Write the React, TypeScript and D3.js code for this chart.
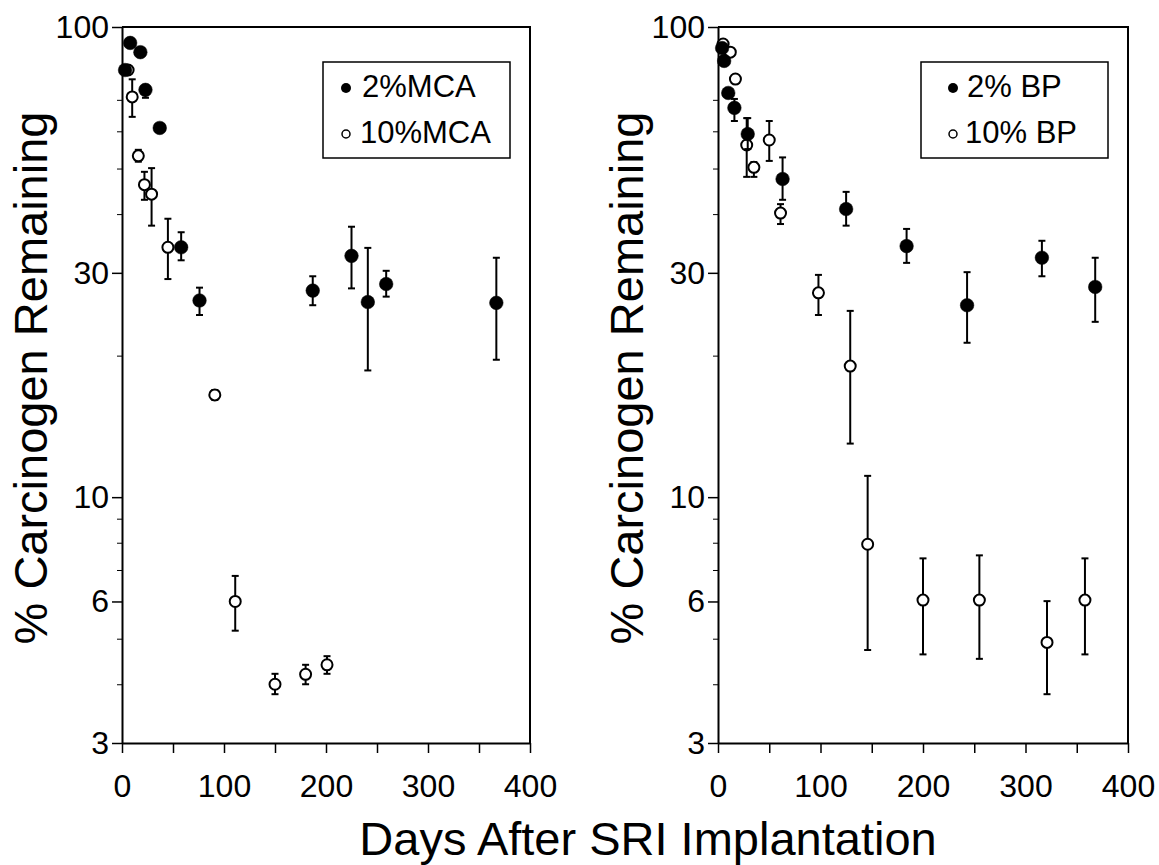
import React, { useEffect, useRef } from "react";
import * as d3 from "d3";

// 2% MCA (filled) and 10% MCA (open), left panel
const mcaDays2 = [3, 8, 18, 23, 37, 58, 76, 187, 225, 241, 259, 367];
const mcaVal2 = [81, 92.5, 88.4, 73.5, 61, 34.0, 26.2, 27.5, 32.6, 26.0, 28.4, 25.9];
const mcaHi2 = [null, null, 90, 75.3, null, 36.6, 27.9, 29.5, 37.6, 33.9, 30.3, 32.3];
const mcaLo2 = [null, null, 86.5, 70.7, null, 31.9, 24.4, 25.6, 27.8, 18.6, 26.7, 19.6];

const mcaDays10 = [6, 10, 16, 22, 29, 45, 91, 111, 150, 180, 201];
const mcaVal10 = [81, 71, 53.2, 46.2, 44.1, 34.0, 16.5, 6.0, 4.0, 4.2, 4.4];
const mcaHi10 = [null, 77.4, 54.8, 49.2, 50.1, 39.1, 16.9, 6.8, 4.21, 4.4, 4.59];
const mcaLo10 = [null, 64.4, 51.7, 42.9, 37.8, 29.1, 16.1, 5.2, 3.81, 4.0, 4.21];

// 2% BP (filled) and 10% BP (open), right panel
const bpDays2 = [4, 6, 10, 16, 29, 63, 125, 184, 243, 316, 368];
const bpVal2 = [90.2, 84.7, 72.4, 67.3, 59.2, 47.5, 41.0, 34.2, 25.6, 32.3, 28.0];
const bpHi2 = [null, null, null, 70.3, 64.0, 52.8, 44.6, 37.2, 30.1, 35.1, 32.3];
const bpLo2 = [null, null, null, 63.1, 55.0, 42.9, 37.8, 31.5, 21.3, 29.5, 23.6];

const bpDays10 = [5, 12, 17, 28, 35, 50, 61, 98, 129, 146, 200, 255, 321, 358];
const bpVal10 = [92, 88.4, 77.5, 56.1, 50.3, 57.5, 40.2, 27.2, 19.0, 7.94, 6.04, 6.04, 4.91, 6.04];
const bpHi10 = [null, null, 78.5, 64.0, 51.6, 63.1, 42.0, 29.7, 24.9, 11.1, 7.41, 7.52, 6.01, 7.41];
const bpLo10 = [null, null, 76.5, 48.0, 48.0, 51.9, 38.1, 24.4, 13.0, 4.73, 4.63, 4.53, 3.81, 4.63];

// axis ticks
const yMajor = [3, 6, 10, 30, 100];
const yMinor = [4, 5, 7, 8, 9, 20, 40, 50, 60, 70];
const xTicks = [0, 50, 100, 150, 200, 250, 300, 350, 400];

const FONT = "'Liberation Sans', Arial, Helvetica, sans-serif";

const App = () => {
  const svgRef = useRef(null);

  useEffect(() => {
    const svg = d3.select(svgRef.current);
    svg.selectAll("*").remove();

    const top = 27;
    const bottom = 743;

    const drawPanel = (left, right, filled, open, legend) => {
      const x = d3.scaleLinear().domain([0, 400]).range([left, right]);
      const y = d3.scaleLog().domain([3, 100]).range([bottom, top]);
      const g = svg.append("g");

      // frame (top + right)
      g.append("path")
        .attr("d", `M${left},${top}H${right}V${bottom}`)
        .attr("fill", "none")
        .attr("stroke", "#000")
        .attr("stroke-width", 2);

      // y axis, major ticks with labels
      const yAxis = g.append("g")
        .attr("transform", `translate(${left},0)`)
        .call(d3.axisLeft(y).tickValues(yMajor).tickFormat(d3.format("d"))
          .tickSize(10).tickSizeOuter(0).tickPadding(3));
      yAxis.select(".domain").attr("stroke-width", 2);
      yAxis.selectAll(".tick line").attr("stroke-width", 1.5);
      yAxis.selectAll("text")
        .attr("font-family", FONT)
        .attr("font-size", 32)
        .attr("fill", "#000");

      // y minor ticks
      const yMin = g.append("g")
        .attr("transform", `translate(${left},0)`)
        .call(d3.axisLeft(y).tickValues(yMinor).tickFormat(() => "")
          .tickSize(5).tickSizeOuter(0));
      yMin.select(".domain").remove();

      // x axis
      const xAxis = g.append("g")
        .attr("transform", `translate(0,${bottom})`)
        .call(d3.axisBottom(x).tickValues(xTicks)
          .tickFormat(d => (d % 100 === 0 ? String(d) : ""))
          .tickSize(10).tickSizeOuter(0).tickPadding(21));
      xAxis.select(".domain").attr("stroke-width", 2);
      xAxis.selectAll(".tick line").attr("stroke-width", 1.5);
      xAxis.selectAll("text")
        .attr("font-family", FONT)
        .attr("font-size", 32)
        .attr("fill", "#000");

      // y title
      g.append("text")
        .attr("transform", `translate(${left - 75},378) rotate(-90)`)
        .attr("text-anchor", "middle")
        .attr("font-family", FONT)
        .attr("font-size", 47)
        .text("% Carcinogen Remaining");

      const drawSeries = (s, isFilled) => {
        const pts = s.days.map((d, i) => ({ d, v: s.val[i], hi: s.hi[i], lo: s.lo[i] }));
        const withErr = pts.filter(p => p.hi != null);
        const eg = g.append("g").attr("stroke", "#000").attr("stroke-width", 2);
        eg.selectAll(".bar").data(withErr).join("line")
          .attr("x1", p => x(p.d)).attr("x2", p => x(p.d))
          .attr("y1", p => y(p.hi)).attr("y2", p => y(p.lo));
        eg.selectAll(".capHi").data(withErr).join("line")
          .attr("x1", p => x(p.d) - 3.5).attr("x2", p => x(p.d) + 3.5)
          .attr("y1", p => y(p.hi)).attr("y2", p => y(p.hi));
        eg.selectAll(".capLo").data(withErr).join("line")
          .attr("x1", p => x(p.d) - 3.5).attr("x2", p => x(p.d) + 3.5)
          .attr("y1", p => y(p.lo)).attr("y2", p => y(p.lo));
        g.append("g").selectAll("circle").data(pts).join("circle")
          .attr("cx", p => x(p.d))
          .attr("cy", p => y(p.v))
          .attr("r", isFilled ? 6.8 : 5.5)
          .attr("fill", isFilled ? "#000" : "#fff")
          .attr("stroke", "#000")
          .attr("stroke-width", isFilled ? 0.5 : 2);
      };
      drawSeries(open, false);
      drawSeries(filled, true);

      // legend
      const lg = g.append("g");
      lg.append("rect")
        .attr("x", legend.x).attr("y", 62)
        .attr("width", legend.w).attr("height", 96)
        .attr("fill", "#fff").attr("stroke", "#000").attr("stroke-width", 1.5);
      lg.append("circle").attr("cx", legend.mx).attr("cy", 88).attr("r", 5).attr("fill", "#000");
      lg.append("circle").attr("cx", legend.mx).attr("cy", 134).attr("r", 4)
        .attr("fill", "#fff").attr("stroke", "#000").attr("stroke-width", 1.5);
      lg.append("text").attr("x", legend.tx).attr("y", 97)
        .attr("font-family", FONT).attr("font-size", 31).text(legend.labels[0]);
      lg.append("text").attr("x", legend.tx - 2).attr("y", 143)
        .attr("font-family", FONT).attr("font-size", 31).text(legend.labels[1]);
    };

    drawPanel(122, 530,
      { days: mcaDays2, val: mcaVal2, hi: mcaHi2, lo: mcaLo2 },
      { days: mcaDays10, val: mcaVal10, hi: mcaHi10, lo: mcaLo10 },
      { x: 323, w: 187, mx: 346, tx: 362, labels: ["2%MCA", "10%MCA"] });

    drawPanel(718, 1128,
      { days: bpDays2, val: bpVal2, hi: bpHi2, lo: bpLo2 },
      { days: bpDays10, val: bpVal10, hi: bpHi10, lo: bpLo10 },
      { x: 921, w: 187, mx: 953, tx: 967, labels: ["2% BP", "10% BP"] });

    // shared x title
    svg.append("text")
      .attr("x", 648)
      .attr("y", 855)
      .attr("text-anchor", "middle")
      .attr("font-family", FONT)
      .attr("font-size", 47)
      .text("Days After SRI Implantation");
  }, []);

  return (
    <svg
      ref={svgRef}
      width={1159}
      height={865}
      style={{ position: "absolute", left: 0, top: 0, background: "#fff" }}
    ></svg>
  );
};

export default App;
